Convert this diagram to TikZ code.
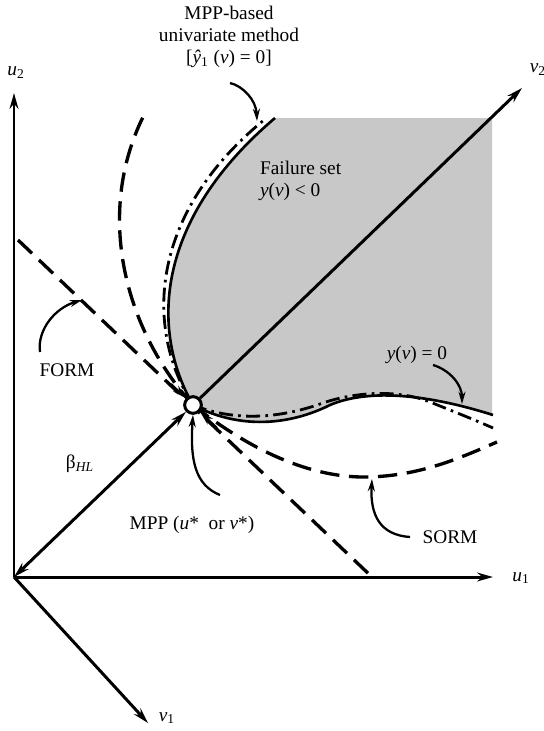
\documentclass[tikz,border=0pt]{standalone}
\usepackage{fontspec}
\setmainfont{Liberation Serif}
\usetikzlibrary{arrows.meta}
\definecolor{failgray}{RGB}{200,200,200}
\tikzset{
  axisline/.style={line width=1.7pt, -{Stealth[length=9pt,width=5pt]}},
  solidcurve/.style={line width=1.5pt},
  dsh/.style={line width=1.9pt, dash pattern=on 11pt off 5.5pt},
  dashdot/.style={line width=1.6pt, dash pattern=on 8pt off 3pt on 1.5pt off 3pt},
  lbl/.style={font=\fontsize{11}{12.5}\selectfont, inner sep=1pt},
  pointer/.style={line width=1.3pt, -{Stealth[length=7pt,width=4pt]}},
  tip/.style={-{Stealth[length=8pt,width=4.5pt]}},
}
\begin{document}
\begin{tikzpicture}[x=0.02cm,y=-0.02cm]
\useasboundingbox (0,0) rectangle (544,731);
% key points
\coordinate (O) at (14,577);
\coordinate (u2tip) at (14,93);
\coordinate (u1tip) at (493,577);
\coordinate (v1tip) at (148,723);
\coordinate (v2tip) at (522,88);
\coordinate (formA) at (18,240);
\coordinate (formB) at (372,577);
\coordinate (M) at (193,405);
\coordinate (fa) at (171,384);
\coordinate (fb) at (217,428);
% failure set
\fill[failgray] (M) .. controls (150,330) and (155,220) .. (275,118) -- (492,118) -- (492,415)
  .. controls (430,395) and (370,388) .. (330,405) .. controls (290,425) and (240,430) .. (M);
% axes
\draw[axisline] (O) -- (u2tip);
\draw[axisline] (O) -- (u1tip);
\draw[axisline] (O) -- (v1tip);
% FORM line
\draw[dsh] (formA) -- (formB);
% SORM curves
\draw[dsh] (M) .. controls (125,330) and (95,215) .. (143,117);
\draw[dsh] (M) .. controls (250,450) and (310,478) .. (367,477) .. controls (420,476) and (460,458) .. (497,442);
% univariate (dash-dot)
\draw[dashdot] (M) .. controls (145,330) and (148,215) .. (264,120);
\draw[dashdot] (M) .. controls (235,422) and (280,418) .. (320,404) .. controls (350,393) and (395,388) .. (430,402) .. controls (455,412) and (475,420) .. (493,428);
% limit state y(v)=0
\draw[solidcurve] (M) .. controls (150,330) and (155,220) .. (275,118);
\draw[solidcurve] (M) .. controls (240,430) and (290,425) .. (330,405) .. controls (370,388) and (430,395) .. (493,415);
% MPP
\node[circle, draw, line width=1.7pt, fill=white, minimum size=9.5pt, inner sep=0pt] (mpp) at (M) {};
% arrow heads of FORM converging at MPP
\draw[line width=1.2pt, tip] (fa) -- (mpp);
\draw[line width=1.2pt, tip] (fb) -- (mpp);
% beta and v2
\draw[line width=1.7pt, {Stealth[length=9pt,width=5pt]}-{Stealth[length=9pt,width=5pt]}] (O) -- (mpp);
\draw[axisline] (mpp) -- (v2tip);
% labels
\node[lbl] (lu2) at (16,73) {\textit{u}\textsubscript{2}};
\node[lbl] (lu1) at (521,578) {\textit{u}\textsubscript{1}};
\node[lbl] (lv1) at (167,718) {\textit{v}\textsubscript{1}};
\node[lbl] (lv2) at (538,70) {\textit{v}\textsubscript{2}};
\node[lbl, align=center] (luni) at (229,37) {MPP-based\\univariate method\\{}[\textit{ŷ}\textsubscript{1} (\textit{v}) = 0]};
\node[lbl, align=left, anchor=west] (lfail) at (258,181) {Failure set\\\textit{y}(\textit{v}) {<} 0};
\node[lbl] (lzero) at (417,355) {\textit{y}(\textit{v}) = 0};
\node[lbl] (lform) at (67,370) {FORM};
\node[lbl] (lbeta) at (80,464) {β\textsubscript{\textit{HL}}};
\node[lbl] (lmpp) at (192,525) {MPP (\textit{u}*\ \ or \textit{v}*)};
\node[lbl] (lsorm) at (450,537) {SORM};
% pointers
\coordinate (puni) at (230,83);
\coordinate (pform) at (40,352);
\coordinate (pzero) at (433,365);
\coordinate (pmpp) at (220,495);
\coordinate (psorm) at (410,537);
\draw[pointer] (puni) .. controls (243,86) and (256,100) .. (257,121);
\draw[pointer] (pform) .. controls (37,330) and (55,308) .. (82,300);
\draw[pointer] (pzero) .. controls (450,370) and (462,385) .. (462,404);
\draw[pointer] (pmpp) .. controls (195,485) and (190,460) .. (mpp.south);
\draw[pointer] (psorm) .. controls (380,535) and (370,515) .. (372,479);
\end{tikzpicture}
\end{document}
